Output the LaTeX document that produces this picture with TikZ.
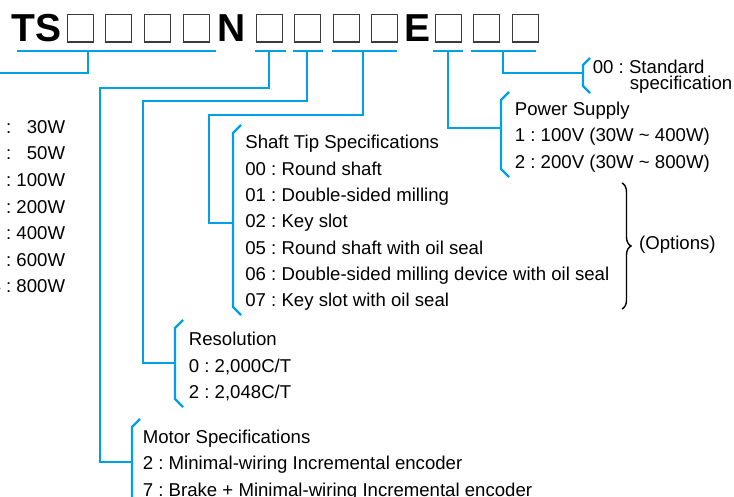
\documentclass[tikz,border=0pt]{standalone}
\usepackage{fontspec}
\setmainfont{Liberation Sans}
\usetikzlibrary{decorations.pathreplacing}
\definecolor{azul}{RGB}{0,160,233}
\definecolor{caixa}{RGB}{60,60,60}
\frenchspacing

\begin{document}
\begin{tikzpicture}[x=0.5pt,y=-0.5pt,
    txt/.style={anchor=base west,inner sep=0pt,font=\fontsize{9.3}{11}\selectfont},
    titulo/.style={anchor=base west,inner sep=0pt,font=\fontsize{19.5}{20}\selectfont\bfseries},
    quadro/.style={draw=caixa,line width=0.65pt,minimum width=13pt,minimum height=13.9pt,
                   inner sep=0pt,anchor=north west},
    traco/.style={azul,line width=1pt},
    chave/.style={azul,line width=1.2pt}]
  \useasboundingbox (0,0) rectangle (734,497);
  \clip (0,0) rectangle (734,497);
  % codigo do modelo
  \node[titulo] (ts) at (11,42) {TS};
  \node[titulo] (n) at (217.5,42) {N};
  \node[titulo] (e) at (404.5,42) {E};
  \foreach \x [count=\i] in {66,104,143,182,255,293,332,370,434,472,511}
    \node[quadro] (q\i) at (\x+0.6,13.6) {};
  \foreach \a/\b in {17/216,255/286,293/323,332/397,433/463,471/536}
    \draw[traco] (\a,51) -- (\b,51);
  % pontos de ligacao
  \coordinate (u1) at (88,51);   \coordinate (j1) at (-5,73);
  \coordinate (u2) at (269,51);  \coordinate (k2) at (100,88);    \coordinate (j2) at (132,462);
  \coordinate (u3) at (307,51);  \coordinate (k3) at (142.5,101.5); \coordinate (j3) at (175,363);
  \coordinate (u4) at (363,51);  \coordinate (k4) at (209,115);   \coordinate (j4) at (233,223);
  \coordinate (u5) at (448,51);  \coordinate (j5) at (501,128.5);
  \coordinate (u6) at (503,51);  \coordinate (j6) at (583,73);
  \draw[traco] (u1) |- (j1);
  \draw[traco] (u2) |- (k2) |- (j2);
  \draw[traco] (u3) |- (k3) |- (j3);
  \draw[traco] (u4) |- (k4) |- (j4);
  \draw[traco] (u5) |- (j5);
  \draw[traco] (u6) |- (j6);
  % colchetes
  \draw[chave] (590,58) -- (583,65) -- (583,86) -- (590,93);
  \draw[chave] (509,92) -- (501,100) -- (501,169) -- (509,177);
  \draw[chave] (241,125) -- (233,133) -- (233,307) -- (241,315);
  \draw[chave] (183,320) -- (175,328) -- (175,399) -- (183,407);
  \draw[chave] (140,419) -- (132,427) -- (132,520);
  % textos
  \foreach \t [count=\i from 0] in {1 : \hphantom{0}30W, 2 : \hphantom{0}50W, 3 : 100W,
      7 : 200W, 9 : 400W, 8 : 600W, 4 : 800W}
    \node[txt,anchor=base east] (pot\i) at (65.5,133.3+26.6*\i) {\t};
  \node[txt] (std0) at (592.5,73.3) {00 : Standard};
  \node[txt] (std1) at (629.5,90) {specification};
  \foreach \t [count=\i from 0] in {Power Supply, 1 : 100V (30W \textasciitilde\ 400W),
      2 : 200V (30W \textasciitilde\ 800W)}
    \node[txt] (pw\i) at (514.5,115.5+26.3*\i) {\t};
  \foreach \t [count=\i from 0] in {Shaft Tip Specifications, 00 : Round shaft,
      01 : Double-sided milling, 02 : Key slot, 05 : Round shaft with oil seal,
      06 : Double-sided milling device with oil seal, 07 : Key slot with oil seal}
    \node[txt] (eixo\i) at (245,149+26.3*\i) {\t};
  \foreach \t [count=\i from 0] in {Resolution, {0 : 2,000C/T}, {2 : 2,048C/T}}
    \node[txt] (res\i) at (188.5,345.7+26.5*\i) {\t};
  \foreach \t [count=\i from 0] in {Motor Specifications,
      2 : Minimal-wiring Incremental encoder, 7 : Brake + Minimal-wiring Incremental encoder}
    \node[txt] (mot\i) at (142.5,443.3+26.4*\i) {\t};
  % opcoes
  \coordinate (o1) at (622,183);
  \coordinate (o2) at (622,309);
  \draw[decorate,decoration={brace,amplitude=4.5pt},line width=0.7pt] (o1) -- (o2);
  \node[txt] (opt) at (638.7,249.5) {(Options)};
\end{tikzpicture}
\end{document}
